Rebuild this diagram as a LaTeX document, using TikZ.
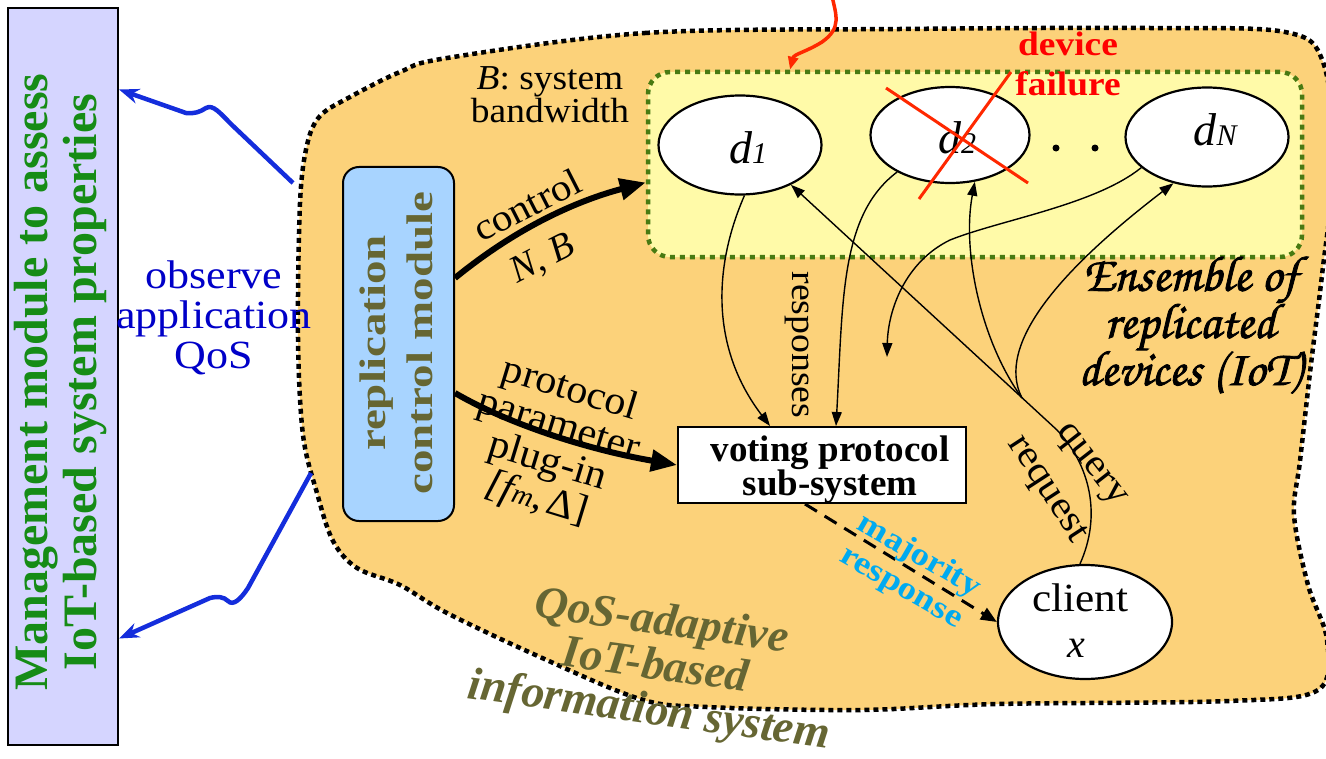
\documentclass[tikz,border=0pt]{standalone}
\usepackage{fontspec}
\setmainfont{Liberation Serif}
\newfontfamily\chancery{texgyrechorus-mediumitalic.otf}[FakeBold=1.6]
\usetikzlibrary{arrows.meta,shapes.geometric,calc}

\definecolor{mgmtfill}{RGB}{213,213,255}
\definecolor{mgmttext}{RGB}{22,140,22}
\definecolor{qosblue}{RGB}{0,0,200}
\definecolor{arrowblue}{RGB}{20,45,220}
\definecolor{blobfill}{RGB}{252,210,122}
\definecolor{ctrlfill}{RGB}{168,212,255}
\definecolor{olivetext}{RGB}{102,102,51}
\definecolor{ensfill}{RGB}{255,250,168}
\definecolor{ensline}{RGB}{72,122,18}
\definecolor{failred}{RGB}{255,40,0}
\definecolor{majcyan}{RGB}{0,170,240}

\newcommand\setfs[2]{\fontsize{#1bp}{#2bp}\selectfont}

\begin{document}
\begin{tikzpicture}[x=1bp,y=-1bp,
  txt/.style={inner sep=0pt, align=center},
  dev/.style={ellipse, draw, line width=2.2bp, fill=white, inner sep=0pt,
              minimum width=163bp, minimum height=99bp},
  flow/.style={line width=1.4bp, -{Triangle[length=14bp,width=10bp]}},
  bigarrow/.style={line width=6bp, -{Triangle[length=26bp,width=21bp]}},
  obsarrow/.style={arrowblue, line width=4.5bp, -{Stealth[length=20bp,width=15bp]}},
]
\useasboundingbox (0,0) rectangle (1326,758);

% management module on the left
\node[draw, fill=mgmtfill, line width=2bp, minimum width=110bp,
      minimum height=737bp, inner sep=0pt] (mgmt) at (63,376.5) {};
\node[txt, rotate=90, text=mgmttext, font=\bfseries\setfs{48}{49}]
      (mgmtlbl) at (61,382) {Management module to assess\\IoT-based system properties};

% the adaptive information system region
\path[fill=blobfill, draw=black, line width=4.5bp, dash pattern=on 5bp off 4bp]
  plot[smooth cycle, tension=0.55] coordinates {
   (447,58) (645,33) (900,29) (1150,28) (1285,32) (1323,62) (1334,160)
   (1322,275) (1311,364) (1300,461) (1294,515) (1308,585) (1327,640)
   (1318,690) (1229,701) (998,704) (860,710) (707,707) (640,699)
   (540,657) (447,613) (400,585) (357,568) (333,541) (317,493)
   (303,435) (298,338) (300,203) (307,145) (320,116) (350,97) (400,72)};

% observation arrows
\coordinate (obsA) at (293,183);
\coordinate (obsB) at (311,473);
\draw[obsarrow] (obsA) -- (232,125) .. controls (220,113) and (213,104) .. (206,108)
   .. controls (200,112) and (194,114) .. (186,113) -- ([yshift=287bp]mgmt.east);
\draw[obsarrow] (obsB) -- (248,588) .. controls (240,600) and (233,606) .. (228,601)
   .. controls (224,597) and (218,596) .. (210,598) -- ([yshift=-262bp]mgmt.east);
\node[txt, text=qosblue, font=\setfs{40}{40}, xscale=1.1] (observe) at (214,318)
   {observe\\application\\QoS};

% ensemble of replicated devices
\node[draw=ensline, fill=ensfill, line width=4.5bp, dash pattern=on 5bp off 5bp,
      rounded corners=22bp, minimum width=654bp, minimum height=185bp,
      inner sep=0pt] (ens) at (975,164.5) {};
\node[txt, font=\setfs{35}{33}, xscale=1.07] (bw) at (550,95) {\textit{B}: system\\bandwidth};

\node[dev] (d1) at (740,145) {};
\node[dev, minimum width=159bp, minimum height=96bp] (d2) at (950,135) {};
\node[dev] (dN) at (1207,137) {};
\node[txt, font=\itshape\setfs{46}{46}] (d1lbl) at (748,148) {d\setfs{30}{30}1};
\node[txt, font=\itshape\setfs{46}{46}] (d2lbl) at (957,138) {d\setfs{30}{30}2};
\node[txt, font=\itshape\setfs{46}{46}] (dNlbl) at (1215,130) {d\setfs{30}{30}N};
\fill (1056,148) circle (3.5bp) (1095,148) circle (3.5bp);

% failed device
\draw[failred, line width=3bp] (886,88) -- (1028,183) (919,199) -- (1011,72);
\node[txt, text=red, font=\bfseries\setfs{34}{40}, xscale=1.1] (fail) at (1068,64) {device\\failure};
\coordinate (hit) at (832,-4);
\draw[failred, line width=3.5bp, -{Triangle[length=13bp,width=10bp]}]
   (hit) .. controls (836,15) and (842,28) .. (822,42)
   .. controls (806,52) and (794,54) .. ([xshift=-185bp]ens.north);

% replication control module
\node[draw, fill=ctrlfill, line width=2bp, rounded corners=16bp, minimum width=111bp,
      minimum height=354bp, inner sep=0pt] (repl) at (398.5,344) {};
\node[txt, rotate=90, xscale=1.27, text=olivetext, font=\bfseries\setfs{37}{47}]
      (repllbl) at (396,343) {replication\\control module};

% voting protocol sub-system
\node[draw, fill=white, line width=2bp, minimum width=288bp, minimum height=76bp,
      inner sep=0pt] (vote) at (822,465) {};
\node[txt, font=\bfseries\setfs{37}{34}] (votelbl) at (830,470) {voting protocol\\sub-system};

% client
\node[dev, minimum width=174bp, minimum height=114bp] (client) at (1085,622) {};
\node[txt, font=\setfs{40}{40}, xscale=1.08] (clientlbl) at (1080,598) {client};
\node[txt, font=\itshape\setfs{40}{40}] (clientx) at (1076,648) {x};

% control paths from the replication module
\draw[bigarrow] ([yshift=66bp]repl.east) .. controls (520,225) and (580,200) .. ([yshift=-18bp]ens.west);
\node[txt, rotate=27, xscale=1.08, font=\setfs{38}{38}] (ctl) at (527,205) {control};
\node[txt, rotate=27, font=\itshape\setfs{38}{38}] (nb) at (543,260) {N, B};
\draw[bigarrow] ([yshift=-49bp]repl.east) .. controls (510,425) and (590,450) .. (vote.west);
\node[txt, rotate=-17, xscale=1.05, font=\setfs{40}{38}] (plug) at (553,445)
   {protocol\\parameter\\plug-in\\{\itshape [f}{\itshape\setfs{28}{38}m},$\,$Δ]};

% responses from the devices
\draw[flow] (d1.-85) .. controls (712,270) and (712,350) .. ([xshift=-52bp]vote.north);
\draw[flow] (d2.-145) .. controls (840,215) and (843,300) .. ([xshift=14bp]vote.north);
\coordinate (drop) at (887,357);
\draw[flow] (dN.-155) .. controls (1095,205) and (1000,220) .. (950,240)
   .. controls (905,262) and (888,310) .. (drop);
\node[txt, rotate=-90, xscale=1.08, font=\setfs{35}{35}] (resp) at (797,345) {responses};

% query / request from the client
\coordinate (fork) at (1022,398);
\draw[flow] (client.95) .. controls (1102,515) and (1090,465) .. (1057,430) -- (d1.-38);
\draw[flow] (fork) .. controls (980,340) and (962,250) .. (d2.-62);
\draw[flow] (fork) .. controls (995,345) and (1060,270) .. (dN.-126);
\node[txt, rotate=-52, xscale=1.1, font=\setfs{38}{38}] (query) at (1090,466) {query};
\node[txt, rotate=-57, xscale=1.1, font=\setfs{38}{38}] (request) at (1046,490) {request};

% majority response to the client
\draw[line width=3bp, dash pattern=on 14bp off 9bp, -{Triangle[length=16bp,width=13bp]}]
   ([xshift=-17bp]vote.south) -- (client.west);
\node[txt, rotate=-30, xscale=1.15, text=majcyan, font=\bfseries\setfs{32}{36}]
   (maj) at (910,572) {majority\\response};

% region captions
\node[txt, font=\chancery\setfs{50}{41}] (ensl) at (1190,325)
   {Ensemble of\\replicated\\devices (IoT)};
\node[txt, rotate=-8, text=olivetext, font=\bfseries\itshape\setfs{46}{45}] (qos) at (655,668)
   {QoS-adaptive\\IoT-based\\information system};
\end{tikzpicture}
\end{document}
